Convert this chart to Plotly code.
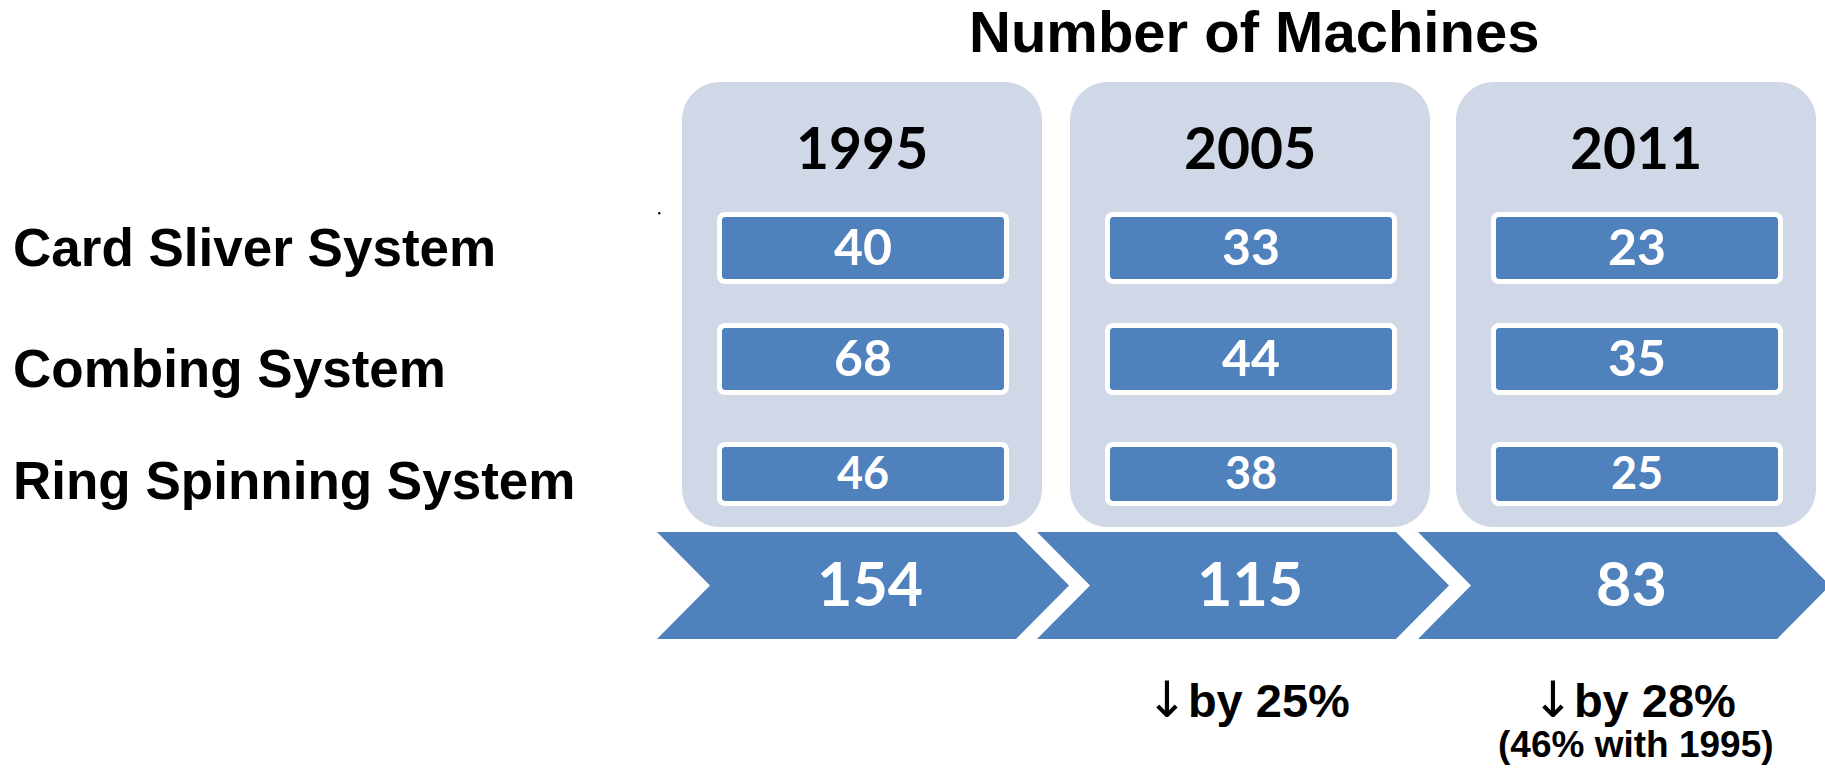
import plotly.graph_objects as go

# ---------------- data ----------------
years = ["1995", "2005", "2011"]
systems = ["Card Sliver System", "Combing System", "Ring Spinning System"]
card_sliver = [40, 33, 23]
combing = [68, 44, 35]
ring_spinning = [46, 38, 25]
totals = [154, 115, 83]
change_text = ["", "by 25%", "by 28%"]
note_text = ["", "", "(46% with 1995)"]
title_text = "Number of Machines"

rows = [card_sliver, combing, ring_spinning]

# ---------------- layout constants ----------------
W, H = 1825, 769
BOX_FILL = "#D0D8E8"
BLUE = "#4F81BD"
box_x0 = [682, 1070, 1456]
box_w = 360
box_top, box_bot = 82, 527
bar_inset = 35
bar_rows = [(212, 284), (323, 395), (442, 506)]
bar_font = [50, 50, 45]
chev_x0 = [657, 1037, 1418]
chev_w, chev_d = 359, 53
chev_top, chev_bot = 532, 639
label_y = [247, 368, 480]


def rrect(x0, y0, x1, y1, r):
    k = 0.5523 * r
    return (f"M {x0+r},{y0} L {x1-r},{y0} "
            f"C {x1-r+k},{y0} {x1},{y0+r-k} {x1},{y0+r} "
            f"L {x1},{y1-r} "
            f"C {x1},{y1-r+k} {x1-r+k},{y1} {x1-r},{y1} "
            f"L {x0+r},{y1} "
            f"C {x0+r-k},{y1} {x0},{y1-r+k} {x0},{y1-r} "
            f"L {x0},{y0+r} "
            f"C {x0},{y0+r-k} {x0+r-k},{y0} {x0+r},{y0} Z")


fig = go.Figure()
shapes = []
annotations = []

# year panels
for i, yr in enumerate(years):
    x0 = box_x0[i]
    x1 = x0 + box_w
    shapes.append(dict(type="path", path=rrect(x0, box_top, x1, box_bot, 38),
                       fillcolor=BOX_FILL, line=dict(width=0), layer="below"))
    cx = (x0 + x1) / 2
    annotations.append(dict(x=cx, y=147, text=f"<b>{yr}</b>", showarrow=False,
                            xanchor="center", yanchor="middle",
                            font=dict(family="Lato", size=57, color="black")))
    for j, row in enumerate(rows):
        ya, yb = bar_rows[j]
        bx0, bx1 = x0 + bar_inset, x1 - bar_inset + 2
        shapes.append(dict(type="path", path=rrect(bx0, ya, bx1, yb, 8),
                           fillcolor="white", line=dict(width=0)))
        shapes.append(dict(type="path", path=rrect(bx0 + 5, ya + 5, bx1 - 5, yb - 5, 3),
                           fillcolor=BLUE, line=dict(width=0)))
        annotations.append(dict(x=(bx0 + bx1) / 2, y=(ya + yb) / 2 - 2.5, text=f"<b>{row[i]}</b>",
                                showarrow=False, xanchor="center", yanchor="middle",
                                font=dict(family="Lato", size=bar_font[j], color="white")))

# chevrons with totals
for i, tot in enumerate(totals):
    x0 = chev_x0[i]
    xr = x0 + chev_w
    mid = (chev_top + chev_bot) / 2
    path = (f"M {x0},{chev_top} L {xr},{chev_top} L {xr+chev_d},{mid} "
            f"L {xr},{chev_bot} L {x0},{chev_bot} L {x0+chev_d},{mid} Z")
    shapes.append(dict(type="path", path=path, fillcolor=BLUE, line=dict(width=0)))
    annotations.append(dict(x=x0 + 213, y=mid - 3, text=f"<b>{tot}</b>", showarrow=False,
                            xanchor="center", yanchor="middle",
                            font=dict(family="Lato", size=61, color="white")))

# row labels
for j, name in enumerate(systems):
    annotations.append(dict(x=11, y=label_y[j], text=f"<b>{name}</b>", showarrow=False,
                            xanchor="left", yanchor="middle",
                            font=dict(family="Liberation Sans", size=53, color="black")))

# title
annotations.append(dict(x=1254, y=31, text=f"<b>{title_text}</b>", showarrow=False,
                        xanchor="center", yanchor="middle",
                        font=dict(family="Liberation Sans", size=58, color="black")))

# changes
for i in range(len(years)):
    cx = box_x0[i] + box_w / 2
    if change_text[i]:
        annotations.append(dict(x=cx - 2, y=700,
                                text=("<span style='font-family:DejaVu Sans;font-weight:normal;"
                                      "font-size:50px'>\u2193</span>"
                                      f"<b>{change_text[i]}</b>"),
                                showarrow=False, xanchor="center", yanchor="middle",
                                font=dict(family="Liberation Sans", size=47, color="black")))
    if note_text[i]:
        annotations.append(dict(x=cx, y=744, text=f"<b>{note_text[i]}</b>", showarrow=False,
                                xanchor="center", yanchor="middle",
                                font=dict(family="Liberation Sans", size=37, color="black")))

# small stray dot
shapes.append(dict(type="circle", x0=658, x1=660.5, y0=212, y1=214.5,
                   fillcolor="black", line=dict(width=0)))

fig.update_layout(
    width=W, height=H,
    margin=dict(l=0, r=0, t=0, b=0),
    paper_bgcolor="white", plot_bgcolor="white",
    shapes=shapes, annotations=annotations,
    xaxis=dict(range=[0, W], visible=False, fixedrange=True),
    yaxis=dict(range=[H, 0], visible=False, fixedrange=True),
    showlegend=False,
)

fig.write_html("out.html", config={"displayModeBar": False},
               post_script="document.body.style.margin='0';document.body.style.overflow='hidden';")
